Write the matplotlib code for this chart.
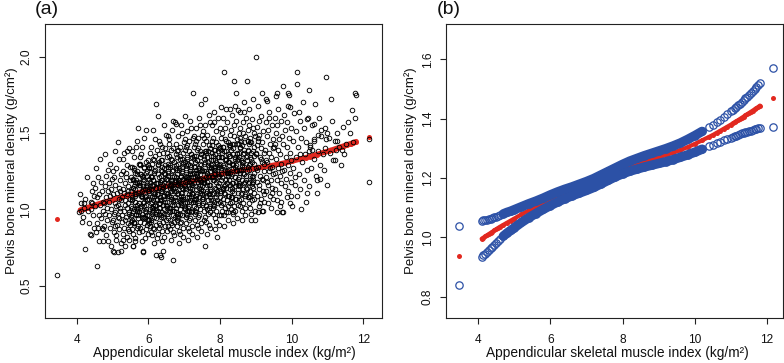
import matplotlib
matplotlib.use("Agg")
import matplotlib.pyplot as plt
import numpy as np

plt.rcParams['font.family'] = ['Liberation Sans', 'DejaVu Sans']

# ---------------- Panel (a): observations (ASMI x100, BMD x100) ----------------
obs_4_5 = [
    (346,57),(407,98),(412,104),(418,95),(409,110),(421,101),(415,92),(423,107),(423,74),(411,99),(419,104),
    (428,121),(431,99),(436,84),(439,105),(442,112),(445,96),(433,91),(447,109),(449,88),(440,100),(446,117),(440,83),(442,104),
    (457,63),(465,133),(455,127),(452,102),(458,91),(461,110),(463,96),(467,118),(470,88),(472,105),(474,99),(451,114),
    (454,85),(459,121),(462,79),(466,103),(469,94),(471,112),(473,87),(456,108),(459,88),(474,79),
    (479,136),(476,104),(477,89),(478,115),(480,97),(481,122),(482,83),(483,108),(484,101),(485,93),(486,126),(487,112),
    (488,79),(489,105),(490,117),(491,96),(492,88),(493,130),(494,109),(495,100),(496,76),(497,113),(498,92),(499,120),
]
obs_5_6 = [
    (505,72),(514,144),(516,72),(501,110),(502,93),(503,121),(504,85),(506,104),(507,98),(508,116),(509,80),(510,127),
    (511,102),(512,90),(513,111),(515,95),(517,133),(518,107),(519,87),(520,119),(521,99),(522,112),(523,78),(524,106),
    (501,125),(503,97),(506,89),(508,138),(511,83),(514,103),(517,114),(519,94),(522,101),(524,123),(502,73),(524,73),
    (526,108),(527,92),(528,125),(529,84),(530,113),(531,99),(532,137),(533,88),(534,117),(535,103),(536,76),(537,121),
    (538,95),(539,110),(540,82),(541,129),(542,104),(543,91),(544,115),(545,98),(546,140),(547,86),(548,107),(549,119),
    (526,96),(528,80),(530,133),(532,111),(534,93),(536,106),(538,124),(540,101),(542,87),(544,112),(546,97),(548,128),
    (549,90),(545,80),(540,138),
    (558,76),(570,153),(551,112),(552,95),(553,128),(554,87),(555,106),(556,119),(557,99),(559,134),(560,91),(561,115),
    (562,81),(563,109),(564,124),(565,97),(566,141),(567,103),(568,88),(569,117),(571,94),(572,111),(573,130),(574,85),
    (551,102),(552,121),(553,93),(554,108),(555,138),(556,84),(557,114),(559,100),(560,126),(561,92),(562,105),(563,118),
    (564,79),(565,110),(566,96),(567,123),(568,101),(569,145),(572,89),(574,116),(573,104),(556,76),
    (586,72),(575,118),(576,101),(577,129),(578,92),(579,110),(580,136),(581,97),(582,122),(583,86),(584,113),(585,104),
    (587,147),(588,95),(589,119),(590,81),(591,108),(592,131),(593,100),(594,115),(595,90),(596,125),(597,106),(598,84),
    (599,112),(575,98),(576,134),(577,88),(578,116),(579,102),(580,123),(581,79),(582,109),(583,141),(584,94),(585,120),
    (587,105),(588,127),(589,91),(590,113),(591,99),(592,152),(593,87),(594,124),(595,107),(596,96),(597,117),(598,132),
    (599,93),(586,73),
]
obs_6_7 = [
    (620,169),(620,70),(601,113),(602,96),(603,128),(604,89),(605,118),(606,104),(607,141),(608,92),(609,121),(610,108),
    (611,83),(612,115),(613,99),(614,133),(615,110),(616,87),(617,124),(618,102),(619,146),(621,94),(622,117),(623,106),
    (624,81),(601,127),(602,111),(603,91),(604,137),(605,100),(606,122),(607,85),(608,113),(609,97),(610,130),(611,105),
    (612,152),(613,88),(614,119),(615,95),(616,109),(617,78),(618,126),(619,103),(621,114),(622,90),(623,139),(624,107),
    (602,120),(606,93),(610,116),(614,101),(618,135),(622,98),
    (628,161),(640,73),(636,69),(626,117),(627,99),(629,131),(630,91),(631,121),(632,108),(633,143),(634,95),(635,126),
    (637,112),(638,86),(639,119),(641,103),(642,137),(643,97),(644,124),(645,82),(646,115),(647,105),(648,149),(649,93),
    (626,129),(627,110),(629,101),(630,136),(631,88),(632,118),(633,104),(634,132),(635,96),(636,122),(637,79),(638,113),
    (639,141),(641,92),(642,116),(643,107),(644,127),(645,100),(646,140),(647,89),(648,120),(649,111),(627,84),(631,145),
    (635,106),(639,98),(643,155),(647,123),(629,114),(633,90),(637,128),(641,109),(632,70),
    (668,67),(651,120),(652,102),(653,134),(654,94),(655,124),(656,111),(657,146),(658,98),(659,129),(660,87),(661,116),
    (662,107),(663,139),(664,91),(665,121),(666,103),(667,152),(669,113),(670,96),(671,131),(672,83),(673,118),(674,106),
    (651,97),(652,137),(653,110),(654,125),(655,89),(656,119),(657,101),(658,143),(659,93),(660,114),(661,128),(662,80),
    (663,108),(664,133),(665,99),(666,117),(667,90),(669,140),(670,105),(671,122),(672,112),(673,95),(674,157),(652,86),
    (656,130),(660,101),(664,115),(668,126),(672,92),(654,148),(662,119),(670,85),(658,109),(670,158),
    (676,119),(677,101),(678,136),(679,93),(680,126),(681,110),(682,148),(683,97),(684,130),(685,86),(686,117),(687,106),
    (688,141),(689,91),(690,122),(691,104),(692,155),(693,114),(694,96),(695,133),(696,82),(697,120),(698,108),(699,144),
    (676,98),(677,129),(678,112),(679,123),(680,89),(681,138),(682,103),(683,118),(684,94),(685,127),(686,78),(687,115),
    (688,100),(689,135),(690,109),(691,121),(692,92),(693,150),(694,106),(695,125),(696,113),(697,88),(698,131),(699,102),
    (677,143),(681,95),(685,119),(689,84),(693,128),(697,107),(679,116),(683,139),(687,97),(691,111),(677,156),
]
obs_7_8 = [
    (725,176),(701,122),(702,104),(703,139),(704,95),(705,129),(706,113),(707,151),(708,99),(709,133),(710,88),(711,120),
    (712,108),(713,145),(714,93),(715,125),(716,106),(717,158),(718,117),(719,98),(720,136),(721,84),(722,123),(723,111),
    (724,147),(701,100),(702,131),(703,115),(704,126),(705,91),(706,141),(707,105),(708,121),(709,96),(710,130),(711,80),
    (712,118),(713,102),(714,138),(715,112),(716,124),(717,94),(718,153),(719,109),(720,128),(721,116),(722,89),(723,134),
    (724,105),(702,146),(706,97),(710,121),(714,86),(718,131),(722,110),(704,119),(708,142),(712,99),(716,114),(702,161),
    (726,124),(727,106),(728,141),(729,97),(730,131),(731,115),(732,153),(733,101),(734,135),(735,90),(736,122),(737,110),
    (738,147),(739,95),(740,127),(741,108),(742,160),(743,119),(744,100),(745,138),(746,86),(747,125),(748,113),(749,149),
    (726,102),(727,133),(728,117),(729,128),(730,93),(731,143),(732,107),(733,123),(734,98),(735,132),(736,82),(737,120),
    (738,104),(739,140),(740,114),(741,126),(742,96),(743,155),(744,111),(745,130),(746,118),(747,91),(748,136),(749,107),
    (727,148),(731,99),(735,124),(739,88),(743,134),(747,112),(729,121),(733,145),(746,169),
    (759,172),(757,76),(751,126),(752,108),(753,143),(754,99),(755,133),(756,117),(758,155),(760,103),(761,137),(762,92),
    (763,124),(764,112),(765,149),(766,97),(767,129),(768,110),(769,162),(770,121),(771,102),(772,140),(773,88),(774,127),
    (751,115),(752,151),(753,104),(754,135),(755,119),(756,130),(758,95),(760,145),(761,109),(762,125),(763,100),(764,134),
    (765,84),(766,122),(767,106),(768,142),(769,116),(770,128),(771,98),(772,157),(773,113),(774,132),(752,120),(756,93),
    (760,138),(764,118),(768,101),(772,125),(754,147),(762,111),(770,90),
    (792,82),(776,128),(777,110),(778,145),(779,101),(780,135),(781,119),(782,157),(783,105),(784,139),(785,94),(786,126),
    (787,114),(788,151),(789,99),(790,131),(791,112),(793,123),(794,104),(795,142),(796,90),(797,129),(798,117),(799,153),
    (776,106),(777,137),(778,121),(779,132),(780,97),(781,147),(782,111),(783,127),(784,102),(785,136),(786,87),(787,124),
    (788,108),(789,144),(790,118),(791,130),(793,160),(794,115),(795,134),(796,122),(797,96),(798,140),(799,111),(777,155),
    (781,103),(785,128),(789,92),(793,138),(783,164),
]
obs_8_9 = [
    (811,190),(801,130),(802,112),(803,147),(804,103),(805,137),(806,121),(807,160),(808,107),(809,141),(810,96),(812,128),
    (813,116),(814,153),(815,101),(816,133),(817,114),(818,166),(819,125),(820,106),(821,144),(822,93),(823,131),(824,119),
    (801,108),(802,139),(803,123),(804,134),(805,99),(806,150),(807,113),(808,129),(809,104),(810,138),(812,89),(813,126),
    (814,110),(815,146),(816,120),(817,132),(818,98),(819,157),(820,117),(821,136),(822,124),(823,102),(824,142),(803,96),
    (803,167),(822,98),
    (840,184),(826,131),(827,113),(828,149),(829,104),(830,139),(831,122),(832,162),(833,108),(834,143),(835,97),(836,129),
    (837,117),(838,155),(839,102),(841,134),(842,115),(843,168),(844,126),(845,107),(846,146),(847,94),(848,132),(849,120),
    (826,109),(827,141),(828,124),(829,135),(830,100),(831,152),(832,114),(833,130),(834,105),(835,140),(836,91),(837,127),
    (838,111),(839,148),(841,121),(842,133),(843,99),(844,158),(845,118),(846,137),(847,125),(849,103),(828,166),(845,176),
    (837,98),
    (874,184),(851,133),(852,115),(853,150),(854,106),(855,141),(856,124),(857,164),(858,110),(859,145),(860,99),(861,131),
    (862,119),(863,157),(864,104),(865,136),(866,117),(867,170),(868,128),(869,109),(870,148),(871,96),(872,134),(873,122),
    (851,111),(852,143),(853,126),(854,137),(855,102),(856,153),(857,116),(858,132),(859,107),(860,142),(861,93),(862,129),
    (863,113),(864,150),(866,123),(868,139),(870,101),(872,160),(851,165),(866,164),
    (887,93),(897,93),(898,99),(876,135),(877,117),(878,152),(879,108),(880,143),(881,126),(882,166),(883,112),(884,147),
    (885,101),(886,133),(888,121),(889,159),(890,106),(891,138),(892,119),(893,172),(894,130),(895,111),(896,150),(876,113),
    (877,145),(878,128),(879,139),(880,104),(881,155),(882,118),(883,134),(884,109),(885,144),(886,97),(888,131),(890,115),
    (892,153),(894,124),(896,107),(899,137),
]
obs_9_10 = [
    (900,200),(916,176),(901,136),(902,118),(903,154),(904,109),(905,145),(906,128),(907,168),(908,113),(909,149),(910,102),
    (911,134),(912,122),(913,161),(914,107),(915,140),(917,120),(918,131),(919,112),(920,151),(921,99),(922,137),(923,125),
    (924,105),(902,142),(904,126),(906,147),(908,116),(910,158),(912,104),(914,133),(918,144),(920,119),(922,110),(924,130),
    (905,98),(917,99),
    (926,139),(927,121),(928,157),(929,112),(930,148),(931,131),(932,171),(933,116),(934,152),(935,104),(936,137),(937,125),
    (938,164),(939,109),(940,143),(941,119),(942,134),(943,101),(944,155),(945,128),(946,114),(947,146),(948,123),(949,107),
    (928,132),(932,118),(936,160),(940,127),(944,111),(948,140),(928,172),
    (951,141),(952,124),(953,160),(954,113),(955,150),(956,133),(957,174),(958,119),(959,155),(960,106),(961,139),(962,127),
    (963,166),(964,111),(965,146),(966,122),(967,136),(968,102),(969,158),(970,130),(971,117),(972,148),(973,125),(974,98),
    (952,143),(958,176),(970,105),(958,98),
    (993,175),(977,98),(976,143),(978,126),(979,162),(980,115),(982,152),(983,134),(985,120),(986,157),(987,108),(988,141),
    (989,129),(990,168),(991,112),(992,147),(994,124),(995,137),(996,104),(997,153),(998,118),(999,132),(975,181),(991,176),
    (995,167),(997,109),
]
obs_10_12 = [
    (1014,190),(1047,178),(1026,100),(1001,102),(1003,145),(1005,127),(1007,163),(1009,116),(1011,151),(1013,134),(1016,109),
    (1018,141),(1020,123),(1022,158),(1024,113),(1027,147),(1029,131),(1031,170),(1033,119),(1035,153),(1037,136),(1039,105),
    (1041,144),(1043,126),(1045,160),(1048,138),(1049,115),(1010,121),(1015,182),(1021,164),(1042,159),(1024,136),(1042,111),
    (1096,187),(1065,169),(1098,150),(1098,116),(1070,111),(1078,120),(1052,141),(1055,127),(1058,155),(1061,133),(1063,146),
    (1067,122),(1072,138),(1075,160),(1080,129),(1083,148),(1086,136),(1089,126),(1092,153),(1094,140),(1062,156),(1082,152),
    (1096,146),(1073,149),(1062,145),(1051,142),(1056,139),(1070,119),
    (1110,172),(1143,154),(1123,139),(1116,132),(1140,139),(1104,147),(1108,137),(1113,158),(1120,145),(1127,150),(1133,141),
    (1137,129),(1146,136),(1127,145),(1122,132),
    (1168,165),(1177,160),(1158,157),(1178,176),(1179,175),(1215,146),(1215,118),(1152,143),(1163,150),(1172,144),
]
obs_core = [
    (551,92),(553,101),(554,107),(556,114),(557,120),(559,127),(552,96),
    (561,91),(563,105),(564,113),(566,119),(567,125),(569,99),(562,110),
    (571,96),(573,104),(574,117),(576,123),(577,130),(579,109),(572,100),
    (581,95),(583,108),(584,115),(586,121),(587,128),(589,102),(582,112),
    (591,94),(593,103),(594,109),(596,116),(597,122),(599,129),(592,98),
    (601,93),(603,107),(604,115),(606,121),(607,127),(609,101),(602,112),
    (611,98),(613,106),(614,119),(616,125),(617,132),(619,111),(612,102),
    (621,97),(623,110),(624,117),(626,123),(627,130),(629,104),(622,114),
    (631,97),(633,106),(634,112),(636,119),(637,125),(639,132),(632,101),
    (641,95),(643,109),(644,117),(646,123),(647,129),(649,103),(642,114),
    (651,101),(653,109),(654,122),(656,128),(657,135),(659,114),(652,105),
    (661,99),(663,112),(664,119),(666,125),(667,132),(669,106),(662,116),
    (671,99),(673,108),(674,114),(676,121),(677,127),(679,134),(672,103),
    (681,97),(683,111),(684,119),(686,126),(687,133),(689,105),(682,116),
    (691,103),(693,111),(694,124),(696,130),(697,137),(699,116),(692,107),
    (701,101),(703,114),(704,121),(706,127),(707,134),(709,108),(702,118),
    (711,101),(713,110),(714,116),(716,123),(717,129),(719,136),(712,105),
    (721,99),(723,113),(724,121),(726,128),(727,135),(729,107),(722,119),
    (731,105),(733,113),(734,126),(736,132),(737,139),(739,118),(732,109),
    (741,103),(743,116),(744,123),(746,129),(747,136),(749,110),(742,120),
    (751,103),(753,112),(754,118),(756,125),(757,131),(759,138),(752,107),
    (761,102),(763,116),(764,124),(766,131),(767,138),(769,110),(762,121),
    (771,108),(773,116),(774,129),(776,135),(777,142),(779,121),(772,112),
    (781,106),(783,119),(784,126),(786,132),(787,139),(789,113),(782,123),
    (791,106),(793,115),(794,121),(796,128),(797,134),(799,141),(792,110),
    (801,105),(803,119),(804,127),(806,134),(807,141),(809,114),(802,126),
    (811,111),(813,119),(814,132),(816,138),(817,145),(819,124),(812,115),
    (821,109),(823,122),(824,129),(826,135),(827,142),(829,116),(822,126),
    (831,108),(833,117),(834,123),(836,130),(837,136),(839,143),(832,112),
    (841,107),(843,121),(844,129),(846,136),(847,143),(849,116),(842,128),
    (851,113),(853,121),(854,134),(856,140),(857,147),(859,126),(852,117),
    (861,111),(863,124),(864,131),(866,137),(867,144),(869,118),(862,128),
    (871,110),(873,119),(874,125),(876,132),(877,138),(879,145),(872,114),
    (881,108),(883,122),(884,130),(886,137),(887,144),(889,117),(882,129),
    (891,114),(893,122),(894,135),(896,141),(897,148),(899,127),(892,118),
]

# ---------------- fitted curve with 95% CI ----------------
fit_x = [3.46, 4.10, 4.15, 4.20, 4.25, 4.30, 4.35, 4.40, 4.45, 4.50, 4.55, 4.60, 4.70, 4.80, 4.90, 5.00,
         5.20, 5.40, 5.60, 5.80, 6.00, 6.20, 6.40, 6.60, 6.80, 7.00, 7.20, 7.40, 7.60, 7.80, 8.00, 8.20,
         8.40, 8.60, 8.80, 9.00, 9.20, 9.40, 9.60, 9.80, 10.00, 10.20, 10.40, 10.50, 10.60, 10.70, 10.80,
         10.90, 11.00, 11.05, 11.10, 11.15, 11.20, 11.25, 11.30, 11.35, 11.40, 11.45, 11.50, 11.55, 11.60,
         11.65, 11.70, 11.75, 11.80, 12.17]
fit_y = [0.936, 0.995, 0.999, 1.003, 1.007, 1.011, 1.015, 1.019, 1.023, 1.027, 1.031, 1.035, 1.042, 1.049,
         1.056, 1.063, 1.077, 1.090, 1.102, 1.114, 1.125, 1.136, 1.146, 1.155, 1.164, 1.173, 1.183, 1.195,
         1.207, 1.219, 1.230, 1.240, 1.248, 1.256, 1.263, 1.270, 1.277, 1.285, 1.294, 1.304, 1.315, 1.327,
         1.339, 1.345, 1.352, 1.359, 1.366, 1.373, 1.380, 1.384, 1.388, 1.391, 1.395, 1.399, 1.403, 1.407,
         1.411, 1.415, 1.419, 1.423, 1.427, 1.431, 1.435, 1.439, 1.444, 1.471]
ci_upper = [1.037, 1.055, 1.057, 1.058, 1.060, 1.062, 1.063, 1.065, 1.067, 1.069, 1.072, 1.075, 1.079, 1.084,
            1.088, 1.093, 1.103, 1.113, 1.122, 1.132, 1.143, 1.153, 1.162, 1.170, 1.179, 1.188, 1.198, 1.210,
            1.222, 1.234, 1.246, 1.257, 1.266, 1.275, 1.283, 1.291, 1.299, 1.308, 1.318, 1.330, 1.343, 1.357,
            1.371, 1.379, 1.388, 1.397, 1.406, 1.416, 1.425, 1.430, 1.435, 1.440, 1.446, 1.451, 1.457, 1.462,
            1.468, 1.474, 1.480, 1.487, 1.493, 1.499, 1.506, 1.512, 1.519, 1.570]
ci_lower = [0.838, 0.935, 0.940, 0.945, 0.951, 0.957, 0.963, 0.969, 0.975, 0.981, 0.987, 0.993, 1.004, 1.014,
            1.023, 1.032, 1.050, 1.066, 1.080, 1.094, 1.107, 1.119, 1.130, 1.140, 1.149, 1.158, 1.168, 1.180,
            1.192, 1.204, 1.214, 1.223, 1.230, 1.237, 1.243, 1.249, 1.255, 1.262, 1.270, 1.278, 1.287, 1.297,
            1.307, 1.312, 1.317, 1.322, 1.327, 1.331, 1.336, 1.338, 1.341, 1.343, 1.345, 1.347, 1.350, 1.352,
            1.354, 1.356, 1.358, 1.360, 1.362, 1.364, 1.366, 1.368, 1.370, 1.373]

a_xticks = [4, 6, 8, 10, 12]
a_yticks = [0.5, 1.0, 1.5, 2.0]
b_yticks = [0.8, 1.0, 1.2, 1.4, 1.6]

xlabel = "Appendicular skeletal muscle index (kg/m\u00b2)"
ylabel = "Pelvis bone mineral density (g/cm\u00b2)"

RED = "#E2281F"
BLUE = "#2C51A6"

obs = obs_4_5 + obs_5_6 + obs_6_7 + obs_7_8 + obs_8_9 + obs_9_10 + obs_10_12 + obs_core
asmi = np.array([p[0] for p in obs]) / 100.0
bmd = np.array([p[1] for p in obs]) / 100.0

fx = np.array(fit_x)
fy = np.array(fit_y)
cu = np.array(ci_upper)
cl = np.array(ci_lower)

fig = plt.figure(figsize=(7.84, 3.63), dpi=100)
ax1 = fig.add_axes([45/784, 45/363, 337/784, 294/363])
ax2 = fig.add_axes([446.3/784, 45/363, 336.4/784, 294/363])

# ----- panel a -----
inner = (fx > 4.0) & (fx < 12.0)
ax1.plot(fx[inner], fy[inner], color=RED, lw=3.8, solid_capstyle='round', zorder=1)
ax1.plot(fx, fy, 'o', color=RED, ms=3.6, mew=0, zorder=1)
ax1.plot(asmi, bmd, 'o', mfc='none', mec='black', ms=3.3, mew=0.65, zorder=2)
ax1.set_xlim(3.115, 12.52)
ax1.set_ylim(0.288, 2.214)
ax1.set_xticks(a_xticks)
ax1.set_yticks(a_yticks)
ax1.set_yticklabels(["0.5", "1.0", "1.5", "2.0"])

# ----- panel b -----
ax2.plot(fx[inner], fy[inner], color=RED, lw=3.0, solid_capstyle='round', zorder=1)
ax2.plot(fx, fy, 'o', color=RED, ms=3.6, mew=0, zorder=1)
mid = (fx >= 4.7) & (fx <= 10.2)
for band in (cu, cl):
    ax2.plot(fx[mid], band[mid], color=BLUE, lw=6.8, solid_capstyle='round', zorder=2)
    ax2.plot(fx, band, 'o', mfc='none', mec=BLUE, ms=5.3, mew=0.9, zorder=2)
ax2.set_xlim(3.122, 12.43)
ax2.set_ylim(0.728, 1.719)
ax2.set_xticks(a_xticks)
ax2.set_yticks(b_yticks)
ax2.set_yticklabels(["0.8", "1.0", "1.2", "1.4", "1.6"])

for ax, ylx, xlx in ((ax1, -0.080, 0.531), (ax2, -0.087, 0.509)):
    for s in ax.spines.values():
        s.set_linewidth(0.8)
        s.set_color('#222222')
    ax.tick_params(axis='both', direction='out', length=4.5, width=0.8, color='#222222',
                   labelsize=8.6, labelcolor='#111111')
    ax.tick_params(axis='x', pad=7.0)
    ax.tick_params(axis='y', pad=4.5, labelrotation=90)
    for t in ax.get_yticklabels():
        t.set_va('center')
    ax.set_xlabel(xlabel, fontsize=9.9, color='#111111')
    ax.set_ylabel(ylabel, fontsize=9.5, color='#111111')
    ax.xaxis.set_label_coords(xlx, -0.096)
    ax.yaxis.set_label_coords(ylx, 0.5)

fig.text(35/784, 1 - 10/363, "(a)", fontsize=14, va='center', ha='left', color='#111111')
fig.text(437/784, 1 - 10/363, "(b)", fontsize=14, va='center', ha='left', color='#111111')

fig.savefig("out.png", dpi=100)
